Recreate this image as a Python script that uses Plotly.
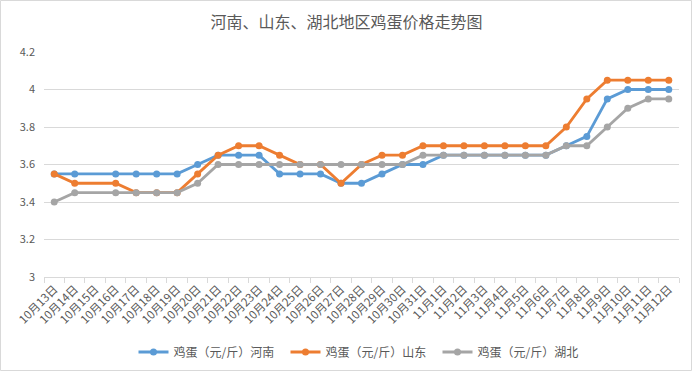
import plotly.graph_objects as go

dates = ["10月13日","10月14日","10月15日","10月16日","10月17日","10月18日","10月19日","10月20日",
         "10月21日","10月22日","10月23日","10月24日","10月25日","10月26日","10月27日","10月28日",
         "10月29日","10月30日","10月31日","11月1日","11月2日","11月3日","11月4日","11月5日",
         "11月6日","11月7日","11月8日","11月9日","11月10日","11月11日","11月12日"]

henan = [3.55,3.55,None,3.55,3.55,3.55,3.55,3.6,3.65,3.65,3.65,3.55,3.55,3.55,3.5,3.5,
         3.55,3.6,3.6,3.65,3.65,3.65,3.65,3.65,3.65,3.7,3.75,3.95,4.0,4.0,4.0]
shandong = [3.55,3.5,None,3.5,3.45,3.45,3.45,3.55,3.65,3.7,3.7,3.65,3.6,3.6,3.5,3.6,
            3.65,3.65,3.7,3.7,3.7,3.7,3.7,3.7,3.7,3.8,3.95,4.05,4.05,4.05,4.05]
hubei = [3.4,3.45,None,3.45,3.45,3.45,3.45,3.5,3.6,3.6,3.6,3.6,3.6,3.6,3.6,3.6,
         3.6,3.6,3.65,3.65,3.65,3.65,3.65,3.65,3.65,3.7,3.7,3.8,3.9,3.95,3.95]

names = ["鸡蛋（元/斤）河南", "鸡蛋（元/斤）山东", "鸡蛋（元/斤）湖北"]
colors = ["#5B9BD5", "#ED7D31", "#A5A5A5"]
series = [henan, shandong, hubei]

FONT = "Noto Sans CJK SC, Microsoft YaHei, sans-serif"

fig = go.Figure()
for name, vals, c in zip(names, series, colors):
    fig.add_trace(go.Scatter(
        x=dates, y=vals, name=name, mode="lines+markers",
        connectgaps=True,
        line=dict(color=c, width=2.8),
        marker=dict(color=c, size=7),
    ))

W, H = 693, 372
ml, mr, mt, mb = 44, 14, 52, 95
pw, ph = W - ml - mr, H - mt - mb

fig.update_layout(
    width=W, height=H,
    margin=dict(l=ml, r=mr, t=mt, b=mb, autoexpand=False),
    paper_bgcolor="white", plot_bgcolor="white",
    font=dict(family=FONT, color="#595959", size=12),
    title=dict(text="河南、山东、湖北地区鸡蛋价格走势图", x=0.5, xanchor="center",
               y=1 - 22 / H, yanchor="middle",
               font=dict(size=16, color="#595959", family=FONT)),
    showlegend=True,
    legend=dict(orientation="h", x=0.5, xanchor="center", y=(277 - 352) / ph,
                yanchor="middle", font=dict(size=12, color="#595959"),
                itemwidth=30, entrywidth=107, entrywidthmode="pixels",
                tracegroupgap=0, bgcolor="rgba(0,0,0,0)"),
    xaxis=dict(type="category", categoryorder="array", categoryarray=dates,
               tickangle=-45, tickfont=dict(size=11.5, color="#595959"),
               showgrid=False, showline=True, linecolor="#D9D9D9", linewidth=1,
               ticks="outside", tickson="boundaries", ticklen=5, tickcolor="#D9D9D9",
               range=[-0.5, len(dates) - 0.5], automargin=False),
    yaxis=dict(range=[3, 4.2], tick0=3, dtick=0.2, showgrid=True, gridcolor="#D9D9D9",
               gridwidth=1, zeroline=False, showline=False, automargin=False,
               tickfont=dict(size=11, color="#595959"), ticks="", ticklabelstandoff=8),
    shapes=[dict(type="rect", xref="paper", yref="paper",
                 x0=-(ml - 0.5) / pw, x1=1 + (mr - 1.5) / pw,
                 y0=-(mb - 1.5) / ph, y1=1 + (mt - 0.5) / ph,
                 line=dict(color="#D9D9D9", width=1), layer="below")],
)

fig.write_html("out.html", config={"displayModeBar": False},
               post_script="document.body.style.margin='0';document.body.style.overflow='hidden';")
